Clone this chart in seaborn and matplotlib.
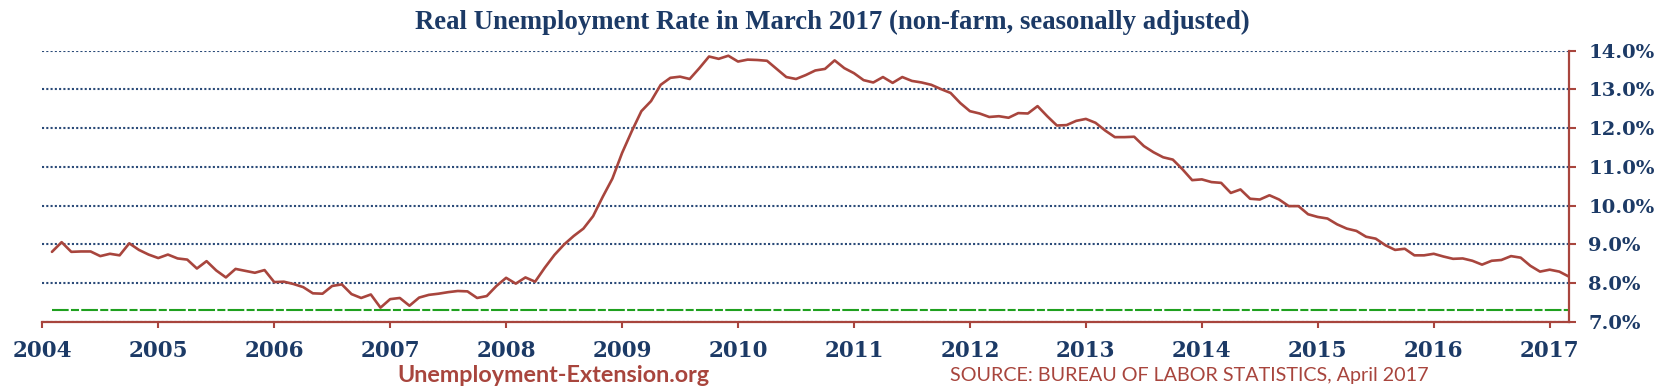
import numpy as np
import pandas as pd
import matplotlib
matplotlib.use("Agg")
import matplotlib.pyplot as plt
import seaborn as sns

# ---- data ----
months = pd.date_range("2004-02-01", "2017-03-01", freq="MS")
rate = [
    8.81, 9.06, 8.81, 8.82, 8.82, 8.70, 8.76, 8.72, 9.03, 8.86, 8.74, 8.65,
    8.74, 8.64, 8.61, 8.38, 8.57, 8.33, 8.15, 8.37, 8.32, 8.27, 8.34, 8.03,
    8.04, 7.98, 7.90, 7.74, 7.73, 7.93, 7.97, 7.72, 7.62, 7.71, 7.37, 7.59,
    7.62, 7.42, 7.63, 7.70, 7.73, 7.77, 7.80, 7.79, 7.62, 7.67, 7.93, 8.14,
    7.99, 8.15, 8.04, 8.40, 8.73,
    9.00, 9.22, 9.41, 9.73, 10.23, 10.70, 11.36, 11.92, 12.44, 12.70, 13.12, 13.30,
    13.33, 13.27, 13.55, 13.85, 13.79, 13.87, 13.72, 13.77, 13.76, 13.74, 13.53, 13.32,
    13.27, 13.37, 13.49, 13.53, 13.75, 13.55, 13.42, 13.24, 13.18, 13.32, 13.17, 13.32,
    13.22, 13.18, 13.12, 13.01, 12.91, 12.65, 12.44, 12.38, 12.29, 12.31, 12.27, 12.39,
    12.38, 12.57, 12.31, 12.07,
    12.08, 12.19, 12.24, 12.14, 11.94, 11.77, 11.77, 11.78, 11.54, 11.38, 11.25, 11.19,
    10.94, 10.66, 10.68, 10.61, 10.59, 10.33, 10.42, 10.18, 10.16, 10.27, 10.16, 9.99,
    9.99, 9.78, 9.71, 9.67, 9.52, 9.41, 9.35, 9.20, 9.15, 8.98, 8.86, 8.89,
    8.72, 8.72, 8.76, 8.69, 8.63, 8.64, 8.58, 8.48, 8.58, 8.60, 8.70, 8.66,
    8.45, 8.30, 8.35, 8.30, 8.17,
]
baseline = 7.3
year_ticks = list(range(2004, 2018))
pct_ticks = [7, 8, 9, 10, 11, 12, 13, 14]

title = "Real Unemployment Rate in March 2017 (non-farm, seasonally adjusted)"
site = "Unemployment-Extension.org"
source = "SOURCE: BUREAU OF LABOR STATISTICS, April 2017"

# ---- styles ----
RED = "#A8453D"
NAVY = "#1C3A66"
GRID = "#2A4A78"
GREEN = "#1FA01F"

sns.set_style("white")
plt.rcParams["font.family"] = ["DejaVu Serif"]

df = pd.DataFrame({
    "t": months.year + (months.month - 1) / 12.0,
    "rate": rate,
})
df["base"] = baseline

fig = plt.figure(figsize=(16.62, 3.91), dpi=100)
ax = fig.add_axes([42.3 / 1662, 69 / 391, (1569 - 42.3) / 1662, 271.3 / 391])

sns.lineplot(data=df, x="t", y="base", ax=ax, color=GREEN, lw=1.5,
             linestyle=(0, (8, 1.1, 3.85, 1.1)))
sns.lineplot(data=df, x="t", y="rate", ax=ax, color=RED, lw=1.9)

ax.set_xlim(2004, df["t"].iloc[-1])
ax.set_ylim(7, 14)
ax.set_xlabel("")
ax.set_ylabel("")

ax.set_xticks(year_ticks)
ax.set_xticklabels([str(y) for y in year_ticks])
ax.yaxis.tick_right()
ax.set_yticks(pct_ticks)
ax.set_yticklabels([f"{v:.1f}%" for v in pct_ticks])

ax.yaxis.grid(True, color=GRID, lw=1.5, linestyle=(0, (1.0, 1.05)))
ax.xaxis.grid(False)
ax.set_axisbelow(True)

for s in ["top", "left"]:
    ax.spines[s].set_visible(False)
for s in ["bottom", "right"]:
    ax.spines[s].set_visible(True)
    ax.spines[s].set_color(RED)
    ax.spines[s].set_linewidth(1.6)

ax.tick_params(axis="x", direction="out", length=4, width=1.5, color=RED,
               pad=9, labelsize=15.5, labelcolor=NAVY, bottom=True)
ax.tick_params(axis="y", direction="out", length=5, width=1.5, color=RED,
               pad=9, labelsize=14, labelcolor=NAVY, right=True, left=False)
for lab in ax.get_xticklabels() + ax.get_yticklabels():
    lab.set_fontweight("bold")

fig.text(832 / 1662, 1 - 22 / 391, title, ha="center", va="center",
         fontsize=19.3, fontweight="bold", color=NAVY, family=["Liberation Serif"])
fig.text(553 / 1662, 1 - 375 / 391, site, ha="center", va="center",
         fontsize=16.8, fontweight="bold", color=RED, family=["Lato"])
fig.text(1189 / 1662, 1 - 375 / 391, source, ha="center", va="center",
         fontsize=14.2, color=RED, family=["Lato"])

fig.savefig("out.png", dpi=100)
